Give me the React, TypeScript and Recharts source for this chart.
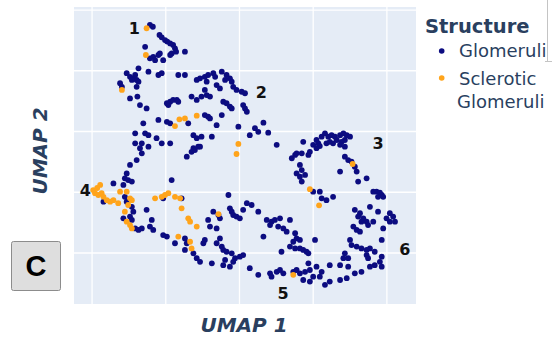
import { ScatterChart, Scatter, XAxis, YAxis, CartesianGrid, ReferenceLine } from 'recharts';

// UMAP embedding (UMAP 1, UMAP 2)
const glomeruli: [number, number][] = [
  [1.57, 7.51], [1.65, 7.45], [1.83, 7.18], [1.89, 7.1], [1.98, 7.01], [2.04, 6.96], [2.12, 6.9], [2.2, 6.85], [2.25, 6.74], [2.28, 6.63],
  [2.16, 6.57], [2.12, 6.52], [2.52, 6.63], [1.44, 6.79], [1.57, 6.41], [1.66, 6.46], [1.71, 6.35], [1.8, 6.52], [1.84, 6.57], [1.93, 6.35],
  [1.26, 6.08], [1.53, 5.97], [1.8, 5.86], [1.89, 5.92], [0.94, 5.92], [1.03, 5.8], [1.12, 5.75], [1.21, 5.7], [1.08, 5.7], [1.17, 5.86],
  [1.26, 5.64], [0.76, 5.59], [0.81, 5.47], [1.21, 5.47], [1.03, 5.09], [1.23, 5.15], [1.3, 4.87], [1.48, 4.76], [2.34, 5.86], [2.52, 5.86],
  [2.84, 5.7], [2.93, 5.75], [3.06, 5.8], [3.15, 5.86], [3.29, 5.92], [3.52, 5.97], [3.65, 5.86], [3.74, 5.75], [3.79, 5.64], [3.83, 5.47],
  [3.92, 5.37], [4.06, 5.31], [4.15, 5.26], [3.11, 5.64], [3.06, 5.37], [3.34, 5.8], [3.38, 5.53], [3.47, 5.42], [3.61, 5.7], [2.7, 5.15],
  [2.84, 5.04], [2.97, 5.15], [3.11, 5.2], [3.2, 5.15], [3.56, 4.98], [3.65, 4.93], [3.74, 4.82], [3.79, 4.76], [4.1, 4.87], [4.15, 4.76],
  [4.2, 4.65], [2.03, 4.93], [2.12, 4.98], [2.2, 5.04], [2.3, 5.04], [2.34, 4.98], [2.07, 4.87],
  [1.8, 4.38], [2.03, 4.32], [2.12, 4.27], [2.61, 4.27], [3.06, 4.54], [3.15, 4.49], [3.2, 4.43], [3.52, 4.54], [3.38, 4.21], [1.39, 4.27],
  [1.17, 3.94], [1.44, 3.94], [1.53, 3.88], [1.75, 3.78], [1.89, 3.61], [2.12, 3.61], [1.17, 3.61], [1.35, 3.61], [1.53, 3.5], [2.75, 3.88],
  [2.84, 3.78], [2.97, 3.83], [3.25, 3.83], [2.93, 3.5], [2.75, 3.45], [3.97, 4.16], [4.28, 3.88], [4.42, 4.11], [4.51, 3.99], [4.65, 4.29],
  [4.78, 3.96], [5.01, 3.56],
  [1.3, 3.45], [1.35, 3.28], [1.21, 3.06], [1.03, 2.9], [2.57, 3.17], [2.7, 3.33], [2.79, 3.39], [2.88, 3.5],
  [0.94, 2.62], [0.89, 2.46], [0.98, 2.4], [1.08, 2.35], [0.85, 2.24], [0.58, 2.29], [2.16, 2.4],
  [0.31, 1.69], [0.89, 1.85], [0.94, 1.69], [1.08, 1.52], [1.12, 1.36], [1.03, 1.2], [0.85, 1.14], [1.08, 1.09], [1.17, 0.81], [1.26, 0.76],
  [1.35, 0.81], [1.57, 0.87], [1.66, 0.76], [1.48, 1.42], [1.62, 1.09], [1.93, 0.59], [2.03, 0.54], [2.25, 0.32], [1.93, 1.8], [2.43, 1.8],
  [2.52, 0.48], [2.57, 0.32], [2.52, 0.1], [2.75, -0.01], [2.84, -0.17], [2.93, -0.29], [3.06, 0.43], [3.02, 0.32],
  [3.15, 1.09], [3.29, 1.36], [3.43, 1.25], [3.47, 1.14], [3.2, 0.87], [3.38, 0.81], [3.47, 0.48], [3.38, 0.32], [3.52, 0.21], [3.56, 0.1],
  [3.65, 0.04], [3.79, -0.01], [3.88, -0.17], [4.01, -0.12], [4.1, -0.07], [3.61, -0.23], [3.56, -0.4], [3.74, -0.45], [3.83, -0.29], [3.25, -0.34],
  [4.28, -0.5], [4.51, -0.72],
  [3.7, 1.91], [3.74, 1.47], [3.79, 1.36], [3.83, 1.25], [3.92, 1.2], [4.01, 1.14], [4.1, 1.42], [4.2, 1.64], [4.33, 1.58], [4.51, 1.36],
  [4.74, 1.09], [4.87, 1.03], [4.96, 1.09], [5.1, 1.14], [4.83, 0.92], [5.05, 0.87], [5.19, 0.81], [5.28, 0.7], [5.37, 1.09], [4.65, 0.54],
  [5.51, 0.65], [5.55, 0.48], [5.64, 0.43], [5.46, 0.37], [5.37, 0.21], [5.51, 0.15], [5.64, 0.15], [5.73, 0.1], [5.82, 0.04], [5.87, -0.01],
  [6.05, 0.43], [5.14, 0.04],
  [4.83, -0.67], [4.87, -0.78], [5.01, -0.62], [5.1, -0.56], [5.19, -0.67], [5.46, -0.62], [5.55, -0.56], [5.64, -0.67], [5.78, -0.62], [5.91, -0.56],
  [5.87, -0.34], [6.09, -0.45], [6.23, -0.62], [6.0, -0.78], [6.18, -0.78], [6.45, -0.4], [6.73, -0.4], [6.95, -0.45], [7.13, -0.67], [7.31, -0.62],
  [6.45, -0.94], [6.73, -0.89], [6.91, -0.83], [6.32, -1.05], [5.91, -0.94], [5.73, -0.89],
  [5.73, 3.66], [6.09, 3.72], [6.23, 3.83], [6.32, 3.94], [6.41, 3.83], [6.5, 3.88], [6.59, 3.83], [6.64, 3.72], [6.73, 3.88], [6.82, 3.94],
  [6.91, 3.88], [7.0, 3.83], [6.86, 3.72], [6.77, 3.66], [6.36, 3.61], [6.45, 3.66], [6.54, 3.61], [6.0, 3.56], [6.14, 3.61], [6.18, 3.52],
  [6.73, 3.56], [6.86, 3.5], [6.09, 3.45], [5.91, 3.33], [5.69, 3.28], [5.51, 3.23], [5.42, 3.12], [5.55, 3.28], [5.87, 3.23],
  [5.64, 2.9], [5.69, 2.73], [5.55, 2.62], [5.64, 2.51], [5.78, 2.57], [5.69, 2.35],
  [6.86, 3.17], [6.95, 3.06], [7.04, 3.01], [7.13, 2.84], [7.18, 2.68], [6.73, 2.68], [7.22, 2.35], [7.45, 2.46],
  [6.0, 2.02], [6.18, 2.02], [6.23, 1.8], [6.36, 1.74], [6.54, 1.85],
  [7.63, 2.02], [7.72, 2.02], [7.81, 1.99], [7.86, 1.91], [7.9, 1.85], [7.76, 1.85],
  [7.54, 1.52], [7.76, 1.36], [8.08, 1.31], [8.17, 1.2], [8.08, 1.03], [8.22, 1.03], [7.99, 1.14],
  [7.13, 1.42], [7.27, 1.31], [7.22, 1.2], [7.36, 1.14], [7.45, 1.03], [7.31, 1.03], [7.63, 1.03], [7.49, 0.92],
  [7.09, 0.87], [7.18, 0.76], [7.27, 0.7], [7.9, 0.81], [7.86, 0.43],
  [7.0, 0.43], [7.04, 0.26], [7.18, 0.21], [7.31, 0.15], [7.45, 0.1], [7.54, 0.15], [7.67, 0.04],
  [6.86, -0.01], [6.82, -0.17], [6.95, -0.17], [7.45, -0.07], [7.49, -0.17], [7.86, -0.12], [7.81, -0.29], [7.86, -0.45], [7.67, -0.4], [7.54, -0.45],
];

const sclerotic: [number, number][] = [
  [1.48, 7.4], [1.46, 6.52], [0.81, 5.37], [2.25, 4.18], [2.37, 4.4], [2.52, 4.43], [2.84, 4.52], [3.97, 3.59], [3.92, 3.26],
  [0.22, 2.24], [0.08, 1.97], [0.17, 1.91], [0.26, 1.97], [0.31, 1.85], [0.4, 1.74], [0.49, 1.69], [0.58, 1.74], [0.71, 1.64], [0.76, 2.02],
  [0.94, 2.02], [1.03, 1.8], [1.08, 1.74], [0.98, 1.58], [0.89, 1.36], [0.94, 1.03], [1.03, 0.92], [1.08, 0.81],
  [1.71, 1.8], [1.89, 1.85], [1.98, 1.91], [2.07, 1.97], [2.25, 1.85], [2.39, 1.8], [2.43, 1.47], [2.61, 1.14], [2.66, 1.03], [2.84, 0.87],
  [2.34, 0.54], [2.66, 0.37], [2.7, 0.15], [3.43, 1.28],
  [7.07, 2.93], [5.91, 2.1], [6.16, 1.57], [5.46, -0.72], [0.03, 2.07], [0.14, 2.14],
];

const clusterNames = ['1', '2', '3', '4', '5', '6'];
const clusterPos: [number, number][] = [
  [1.15, 7.38], [4.59, 5.28], [7.76, 3.6], [-0.18, 2.05], [5.18, -1.35], [8.49, 0.13],
];

const xTicks = [0, 2, 4, 6, 8];
const yTicks = [0, 2, 4, 6, 8];

const NAVY = '#0c0c80';
const ORANGE = '#FFA41B';
const TITLE = '#2a3f5f';

export default function App() {
  const glomData = glomeruli.map(([x, y]) => ({ x, y }));
  const sclData = sclerotic.map(([x, y]) => ({ x, y }));
  const labelData = clusterNames.map((name, i) => ({ x: clusterPos[i][0], y: clusterPos[i][1], name }));

  return (
    <div style={{ position: 'absolute', left: 0, top: 0, width: 552, height: 339, background: '#fff' }}>
      <ScatterChart width={552} height={339} margin={{ top: 7, right: 136, bottom: 35, left: 74 }}>
        <CartesianGrid fill="#E5ECF6" fillOpacity={1} horizontal={false} vertical={false} />
        <XAxis
          type="number"
          dataKey="x"
          domain={[-0.49, 8.79]}
          ticks={xTicks}
          allowDataOverflow
          tick={false}
          tickLine={false}
          axisLine={false}
          height={0}
        />
        <YAxis
          type="number"
          dataKey="y"
          domain={[-1.68, 8.1]}
          ticks={yTicks}
          allowDataOverflow
          tick={false}
          tickLine={false}
          axisLine={false}
          width={0}
        />
        {xTicks.map((t) => (
          <ReferenceLine key={'vx' + t} x={t} stroke="#ffffff" strokeWidth={1.3} />
        ))}
        {yTicks.map((t) => (
          <ReferenceLine key={'hy' + t} y={t} stroke="#ffffff" strokeWidth={1.3} />
        ))}
        <Scatter
          data={glomData}
          isAnimationActive={false}
          shape={(p: any) => <circle cx={p.cx} cy={p.cy} r={2.9} fill={NAVY} />}
        />
        <Scatter
          data={sclData}
          isAnimationActive={false}
          shape={(p: any) => <circle cx={p.cx} cy={p.cy} r={2.9} fill={ORANGE} />}
        />
        <Scatter
          data={labelData}
          isAnimationActive={false}
          shape={(p: any) => (
            <text
              x={p.cx}
              y={p.cy}
              textAnchor="middle"
              dominantBaseline="central"
              fontFamily="DejaVu Sans"
              fontWeight="bold"
              fontSize={16}
              fill="#111"
            >
              {p.payload.name}
            </text>
          )}
        />
      </ScatterChart>

      <svg width={552} height={339} style={{ position: 'absolute', left: 0, top: 0, pointerEvents: 'none' }}>
        <defs>
          <clipPath id="legendClip">
            <rect x={400} y={0} width={147} height={339} />
          </clipPath>
        </defs>
        {/* axis titles */}
        <text x={244} y={332} textAnchor="middle" fontFamily="DejaVu Sans" fontWeight="bold" fontStyle="italic" fontSize={20} fill={TITLE}>
          UMAP 1
        </text>
        <text transform="translate(47,151) rotate(-90)" textAnchor="middle" fontFamily="DejaVu Sans" fontWeight="bold" fontStyle="italic" fontSize={20} fill={TITLE}>
          UMAP 2
        </text>

        {/* panel letter */}
        <rect x={11.5} y={241.5} width={49} height={49} rx={2} fill="#dedede" stroke="#8c8c8c" />
        <text x={36} y={276} textAnchor="middle" fontFamily="Liberation Sans" fontWeight="bold" fontSize={29} fill="#000">
          C
        </text>

        {/* legend */}
        <g clipPath="url(#legendClip)" fontFamily="DejaVu Sans">
          <text x={425} y={33} fontWeight="bold" fontSize={19.5} fill={TITLE}>Structure</text>
          <circle cx={441.7} cy={51} r={2.8} fill={NAVY} />
          <text x={459} y={57} fontSize={18} fill={TITLE}>Glomeruli</text>
          <circle cx={441.7} cy={78} r={2.8} fill={ORANGE} />
          <text x={459} y={85} fontSize={18} fill={TITLE}>Sclerotic</text>
          <text x={457} y={108} fontSize={18} fill={TITLE}>Glomeruli</text>
        </g>
        <line x1={547.5} y1={0} x2={547.5} y2={61} stroke="#c4c4c4" />
        <line x1={545} y1={61.5} x2={552} y2={61.5} stroke="#c4c4c4" />
      </svg>
    </div>
  );
}
